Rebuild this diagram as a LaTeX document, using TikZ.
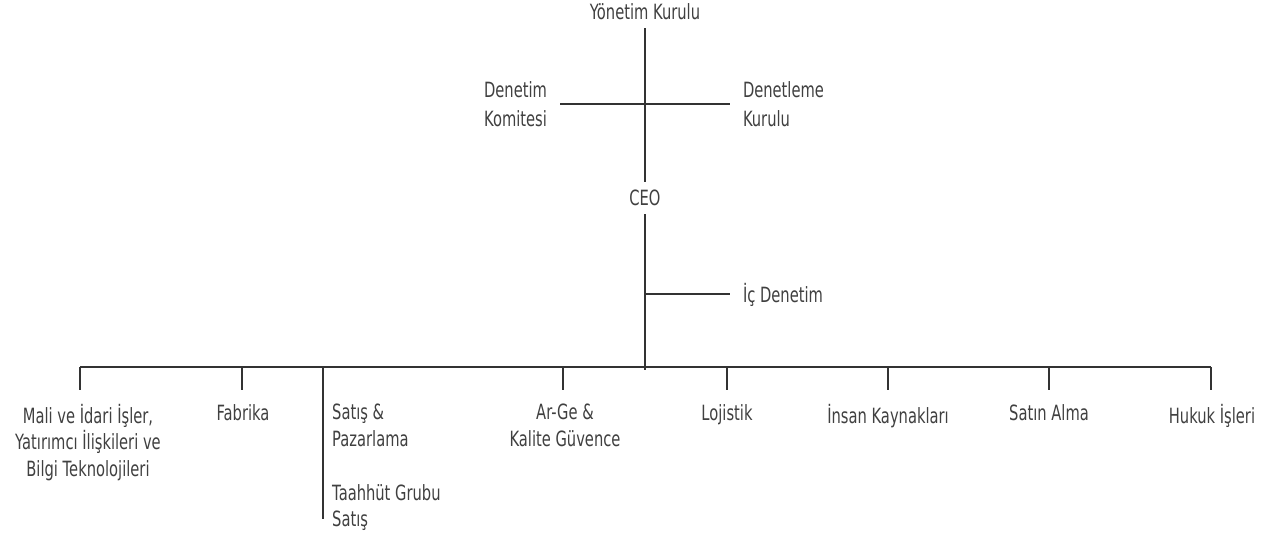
\documentclass[tikz,border=0pt]{standalone}
\usepackage{fontspec}
\setmainfont{DejaVu Sans}[FakeStretch=0.7]
\usetikzlibrary{positioning,calc}

\begin{document}
\begin{tikzpicture}[
	x=1pt,y=-1pt,
		font=\fontsize{21}{26.5}\selectfont,
		every node/.style={text=black!75},
		title/.style={
			inner xsep=5pt,
			inner ysep=8pt
		},
		side/.style={
			align=left,
			inner xsep=0pt,
			inner ysep=2pt,
			outer xsep=13pt,
			font=\fontsize{21}{28.5}\selectfont
		},
		unit/.style={
			anchor=north,
			align=center,
			inner xsep=2pt,
			inner ysep=14pt
		},
		subunit/.style={
			unit,
			anchor=north west,
			align=left
		},
		link/.style={
			draw=black!80,
			line width=1.1pt
		}
	]
	\useasboundingbox (0,0) rectangle (1278,557);
	% Board and committees
	\node[title] (yk) at (645,12) {Yönetim Kurulu};
	\node[title] (ceo) at (645,198) {CEO};
	\node[side, anchor=east] (dk) at (560,104) {Denetim\\Komitesi};
	\node[side, anchor=west] (dlk) at (730,104) {Denetleme\\Kurulu};
	\draw[link] (yk) -- (ceo);
	\draw[link] (dk) -- (dlk);
	% CEO line and internal audit
	\coordinate (hub) at (645,370);
	\coordinate (icj) at (645,294);
	\node[side, anchor=west] (icd) at (730,295) {İç Denetim};
	\draw[link] (ceo) -- (hub);
	\draw[link] (icj) -- (icj -| icd.west);
	% Departments
	\coordinate (busL) at (80,367);
	\coordinate (busR) at (1211,367);
	\draw[link] (busL) -- (busR);
	\foreach \name/\dx/\tx/\txt in {
		mali/80/88/{Mali ve İdari İşler,\\Yatırımcı İlişkileri ve\\Bilgi Teknolojileri},
		fab/242/243/{Fabrika},
		arge/563/565/{Ar-Ge \&\\Kalite Güvence},
		loj/727/727/{Lojistik},
		ik/888/888/{İnsan Kaynakları},
		satin/1049/1049/{Satın Alma},
		hukuk/1211/1212/{Hukuk İşleri}}{
		\coordinate (\name-t) at (\dx,367);
		\node[unit] (\name) at (\tx,390) {\txt};
		\draw[link] (\name-t) -- (\name-t |- \name.north);
	}
	% Sales branch
	\coordinate (satis-t) at (323,367);
	\coordinate (satis-b) at (323,519);
	\node[subunit] (satis) at (330,390) {Satış \&\\Pazarlama};
	\node[subunit] (taah) at (330,470) {Taahhüt Grubu\\Satış};
	\draw[link] (satis-t) -- (satis-b);
\end{tikzpicture}
\end{document}
